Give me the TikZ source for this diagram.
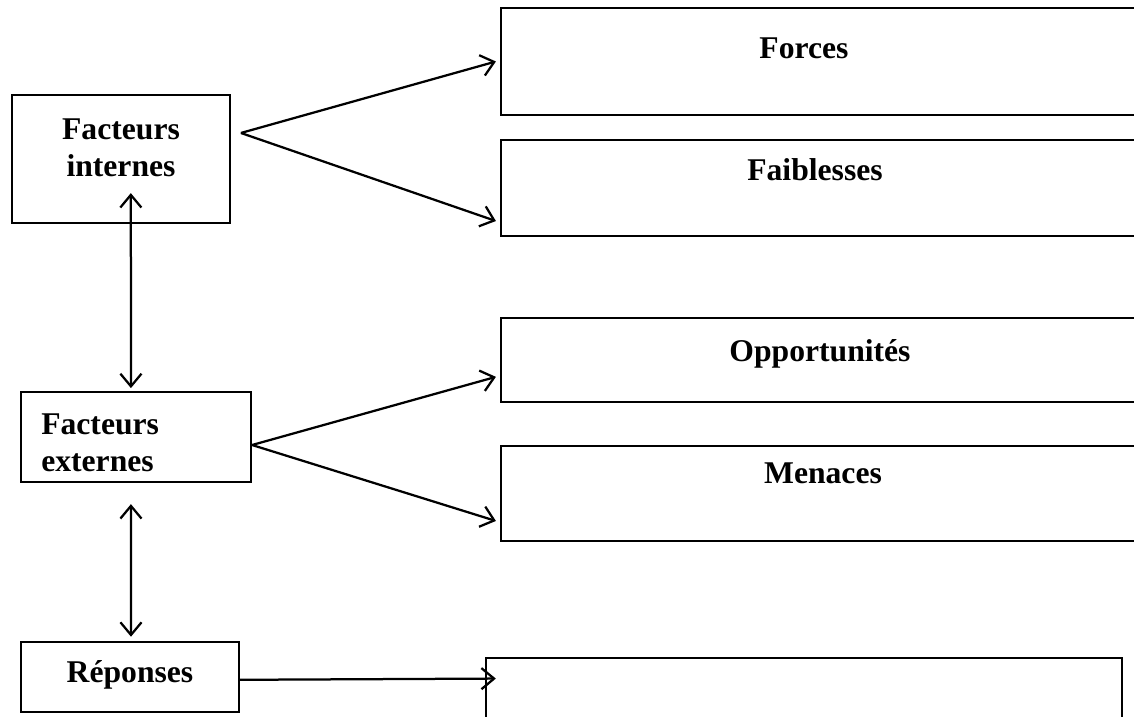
\documentclass[tikz,border=0pt]{standalone}
\usepackage{fontspec}
\setmainfont{Liberation Serif}
\usetikzlibrary{arrows.meta}

\begin{document}
\begin{tikzpicture}[
    x=0.025cm, y=0.025cm,
    box/.style={rectangle, draw=black, line width=1.5pt, inner sep=0pt},
    lab/.style={font=\fontsize{22.5}{26.5}\selectfont\bfseries, align=center, inner sep=0pt},
    arrow/.style={-{Straight Barb[length=9pt,width=15pt,line width=1.6pt]}, line width=1.6pt},
    dblarrow/.style={{Straight Barb[length=9pt,width=15pt,line width=1.6pt]}-{Straight Barb[length=9pt,width=15pt,line width=1.6pt]}, line width=1.6pt}
]
\useasboundingbox (0,0) rectangle (1134,717);
\clip (0,0) rectangle (1134,717);

% Left column
\node[box, minimum width=5.45cm, minimum height=3.2cm]  (internes) at (121,558) {};
\node[box, minimum width=5.75cm, minimum height=2.25cm] (externes) at (136,280) {};
\node[box, minimum width=5.45cm, minimum height=1.75cm] (reponses) at (130,40) {};

\node[lab] (tinternes) at (121,569) {Facteurs\\internes};
\node[lab, align=left, anchor=west] (texternes) at (41,274) {Facteurs\\externes};
\node[lab] (treponses) at (130,42) {Réponses};

% Right column
\node[box, minimum width=16.5cm, minimum height=2.675cm] (forces)     at (831,655.5) {};
\node[box, minimum width=16.5cm, minimum height=2.4cm]   (faiblesses) at (831,529) {};
\node[box, minimum width=16.5cm, minimum height=2.1cm]   (opport)     at (831,357) {};
\node[box, minimum width=16.5cm, minimum height=2.375cm] (menaces)    at (831,223.5) {};
\node[box, minimum width=15.9cm, minimum height=2.475cm] (resultat)   at (804,9.5) {};

\node[lab] (tforces)     at (804,669) {Forces};
\node[lab] (tfaiblesses) at (815,547) {Faiblesses};
\node[lab] (topport)     at (820,363) {Opportunités};
\node[lab] (tmenaces)    at (823,244) {Menaces};

% Arrows to the right
\draw[arrow] ([shift={(7pt,18.5pt)}]internes.east) -- ([xshift=-2.8pt]forces.west);
\draw[arrow] ([shift={(7pt,18.5pt)}]internes.east) -- ([shift={(-2.8pt,11.4pt)}]faiblesses.south west);
\draw[arrow] ([yshift=-5.7pt]externes.east) -- ([shift={(-2.8pt,-12pt)}]opport.west);
\draw[arrow] ([yshift=-5.7pt]externes.east) -- ([shift={(-2.8pt,15pt)}]menaces.south west);
\draw[arrow] ([yshift=-2pt]reponses.east) -- ([shift={(7.8pt,-15.4pt)}]resultat.north west);

% Vertical links
\draw[dblarrow] ([shift={(7pt,22pt)}]internes.south) -- ([shift={(-3.6pt,2pt)}]externes.north);
\draw[dblarrow] ([shift={(-3.6pt,-15pt)}]externes.south) -- ([shift={(0.7pt,3pt)}]reponses.north);

\end{tikzpicture}
\end{document}
